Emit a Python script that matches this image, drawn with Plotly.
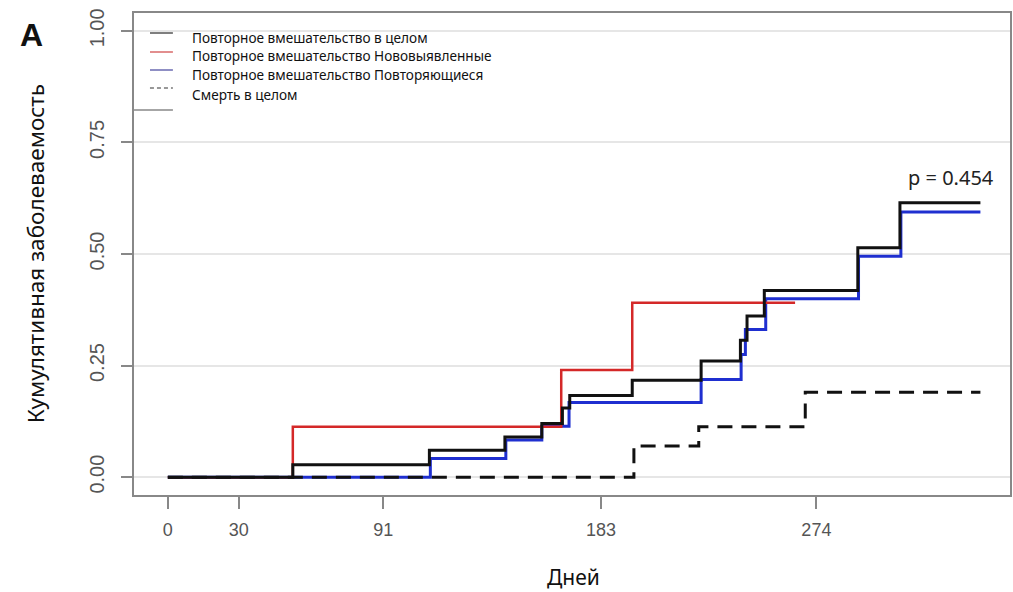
import plotly.graph_objects as go

# ---- data ----
overall_t = [0, 52.8, 110.5, 142.4, 158.0, 166.7, 169.8, 196.2, 225.3, 241.9, 244.7, 252.0, 291.5, 309.3, 343.3]
overall_v = [0, 0.028, 0.060, 0.090, 0.120, 0.155, 0.183, 0.217, 0.260, 0.307, 0.361, 0.418, 0.514, 0.615, 0.615]

recur_t = [0, 110.9, 142.8, 158.0, 169.5, 225.3, 242.2, 244.0, 252.6, 291.8, 309.7, 343.3]
recur_v = [0, 0.042, 0.083, 0.114, 0.167, 0.219, 0.275, 0.331, 0.400, 0.495, 0.594, 0.594]

new_t = [0, 52.8, 166.2, 196.2, 265.0]
new_v = [0, 0.113, 0.240, 0.391, 0.391]

death_t = [0, 196.9, 224.3, 269.3, 343.3]
death_v = [0, 0.070, 0.113, 0.190, 0.190]

x_ticks = [0, 30, 91, 183, 274]
y_ticks = [0, 0.25, 0.5, 0.75, 1.0]
y_tick_text = ["0.00", "0.25", "0.50", "0.75", "1.00"]

legend_labels = [
    "Повторное вмешательство в целом",
    "Повторное вмешательство Нововыявленные",
    "Повторное вмешательство Повторяющиеся",
    "Смерть в целом",
]

# ---- figure ----
W, H = 1013, 592
L, R, T, B = 134, 1, 13, 97
PW, PH = W - L - R, H - T - B


def px(x):
    return (x - L) / PW


def py(y):
    return (H - B - y) / PH


fig = go.Figure()
fig.add_trace(go.Scatter(x=recur_t, y=recur_v, mode="lines", line=dict(color="#1f2fd0", width=3, shape="hv"),
                         name=legend_labels[2], showlegend=False))
fig.add_trace(go.Scatter(x=new_t, y=new_v, mode="lines", line=dict(color="#d42828", width=2.5, shape="hv"),
                         name=legend_labels[1], showlegend=False))
fig.add_trace(go.Scatter(x=overall_t, y=overall_v, mode="lines", line=dict(color="#111111", width=3, shape="hv"),
                         name=legend_labels[0], showlegend=False))
fig.add_trace(go.Scatter(x=death_t, y=death_v, mode="lines",
                         line=dict(color="#111111", width=3, shape="hv", dash="15px,9px"),
                         name=legend_labels[3], showlegend=False))

shapes = []
# white legend background covering gridline
shapes.append(dict(type="rect", xref="paper", yref="paper", x0=px(135), x1=px(521), y0=py(110), y1=py(14),
                   fillcolor="white", line=dict(width=0), layer="between"))
shapes.append(dict(type="line", xref="paper", yref="paper", x0=px(134), x1=px(173), y0=py(110), y1=py(110),
                   line=dict(color="#888888", width=1.5)))
leg_cols = ["#555555", "#d86868", "#6a6ab0", "#777777"]
leg_dash = ["solid", "solid", "solid", "4px,3px"]
leg_line_y = [33, 52, 70, 88]
for c, d, yy in zip(leg_cols, leg_dash, leg_line_y):
    shapes.append(dict(type="line", xref="paper", yref="paper", x0=px(150), x1=px(173), y0=py(yy), y1=py(yy),
                       line=dict(color=c, width=1.5, dash=d)))

annotations = []
leg_text_y = [37, 55.5, 74.5, 94.5]
for lab, yy in zip(legend_labels, leg_text_y):
    annotations.append(dict(text=lab, xref="paper", yref="paper", x=px(190), y=py(yy), xanchor="left",
                            yanchor="middle", showarrow=False, font=dict(family="Noto Sans", size=13.6, color="#111")))
annotations.append(dict(text="p = 0.454", xref="paper", yref="paper", x=px(953), y=py(177), xanchor="center",
                        yanchor="middle", showarrow=False, font=dict(family="Noto Sans", size=20, color="#222")))
annotations.append(dict(text="<b>A</b>", xref="paper", yref="paper", x=px(31), y=py(35), xanchor="center",
                        yanchor="middle", showarrow=False, font=dict(family="Liberation Sans", size=32, color="#111")))
annotations.append(dict(text="Кумулятивная заболеваемость", xref="paper", yref="paper", x=px(35), y=py(254),
                        xanchor="center", yanchor="middle", textangle=-90, showarrow=False,
                        font=dict(family="Noto Sans", size=22.5, color="#111")))
annotations.append(dict(text="Дней", xref="paper", yref="paper", x=px(575), y=py(577), xanchor="center",
                        yanchor="middle", showarrow=False, font=dict(family="Noto Sans", size=21, color="#111")))

fig.update_layout(
    width=W, height=H,
    margin=dict(l=L, r=R, t=T, b=B, pad=0),
    paper_bgcolor="white", plot_bgcolor="white",
    showlegend=False,
    shapes=shapes,
    annotations=annotations,
    xaxis=dict(range=[-14.3, 355.8], tickvals=x_ticks, ticktext=[str(v) for v in x_ticks],
               showgrid=False, zeroline=False, showline=True, mirror=True, linecolor="#888888", linewidth=1.5,
               ticks="outside", ticklen=12, tickwidth=1.5, tickcolor="#888888", ticklabelstandoff=6,
               tickfont=dict(family="Liberation Sans", size=18, color="#555555")),
    yaxis=dict(range=[-0.04, 1.04], tickvals=y_ticks, ticktext=y_tick_text, tickangle=-90,
               showgrid=True, gridcolor="#e6e6e6", gridwidth=1.5, zeroline=False,
               showline=True, mirror=True, linecolor="#888888", linewidth=1.5,
               ticks="outside", ticklen=11, tickwidth=1.5, tickcolor="#888888", ticklabelstandoff=9,
               tickfont=dict(family="Liberation Sans", size=20, color="#555555")),
)

fig.write_html("out.html")
